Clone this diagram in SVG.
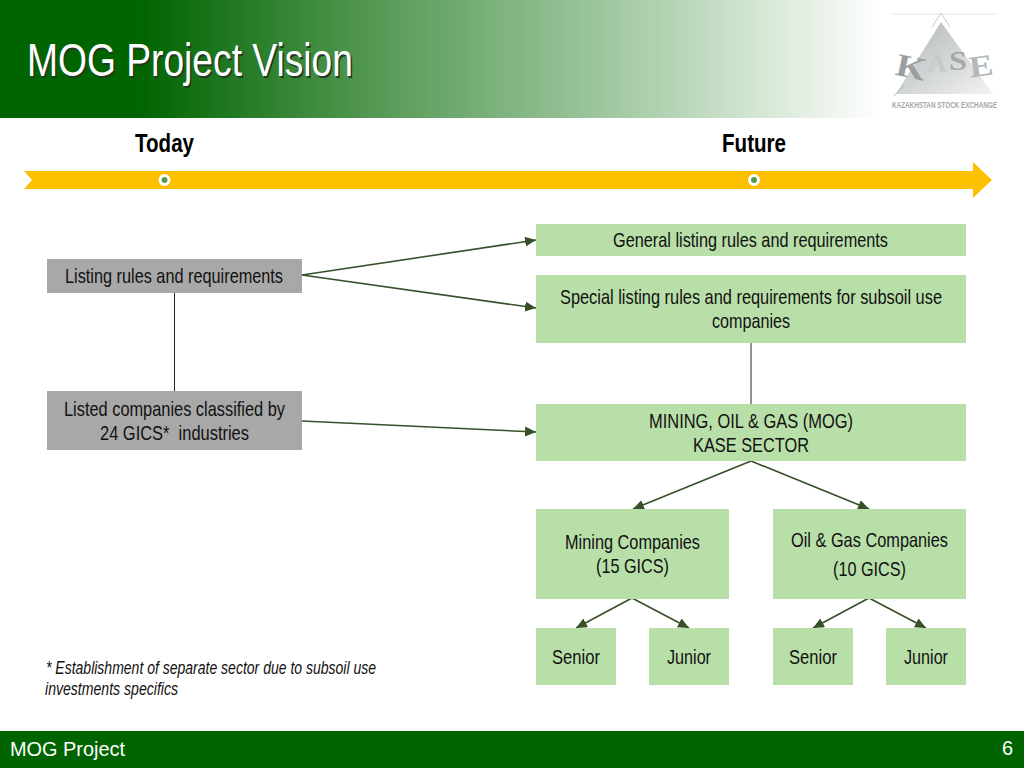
<svg xmlns="http://www.w3.org/2000/svg" width="1024" height="768" viewBox="0 0 1024 768">
<style>
text{font-family:"Liberation Sans",Arial,sans-serif;fill:#111;font-size:21px}
.g{fill:#b9dfa9}
.k{fill:#a8a8a8}
.c line{stroke:#36502a;stroke-width:1.6;fill:none}
.dot{fill:#5a9a4e;stroke:#fff;stroke-width:3}
</style>
<defs>
<linearGradient id="hdr" x1="0" x2="1" y1="0" y2="0">
<stop offset="0" stop-color="#006400"/>
<stop offset="0.135" stop-color="#006400"/>
<stop offset="0.39" stop-color="#5d9e5d"/>
<stop offset="0.65" stop-color="#b3d3b3"/>
<stop offset="0.86" stop-color="#ffffff"/>
<stop offset="1" stop-color="#ffffff"/>
</linearGradient>
<linearGradient id="tri" x1="0" x2="1" y1="0" y2="1">
<stop offset="0" stop-color="#b0b5b5"/>
<stop offset="1" stop-color="#f2f3f3"/>
</linearGradient>
<marker id="a" markerUnits="userSpaceOnUse" markerWidth="12" markerHeight="12" refX="11" refY="5" orient="auto">
<path d="M0 0L11 5L0 10Z" fill="#36502a"/>
</marker>
</defs>
<rect id="header" width="1024" height="118" fill="url(#hdr)"/>
<text x="28.500" y="77.500" textLength="326" lengthAdjust="spacingAndGlyphs" style="font-size:46px;fill:#1f3a1f">MOG Project Vision</text>
<text x="27" y="76" textLength="326" lengthAdjust="spacingAndGlyphs" style="font-size:46px;fill:#fff">MOG Project Vision</text>
<g id="logo">
<path d="M892 14H996" stroke="#e4e6e6" fill="none"/>
<path d="M932 27L941 13L950 27" stroke="#c8cccc" fill="none"/>
<path d="M941 22L896 94H993Z" fill="url(#tri)"/>
<path d="M894 96L904 85" stroke="#b5b9b9" fill="none"/>
<text transform="rotate(12 912 68)" x="896" y="78" textLength="30" lengthAdjust="spacingAndGlyphs" style="font-size:32px;font-weight:bold;fill:#9a9f9f;font-family:'Liberation Serif',serif">K</text>
<text x="927" y="72" textLength="20" lengthAdjust="spacingAndGlyphs" style="font-size:26px;font-weight:bold;fill:#c6caca;font-family:'Liberation Serif',serif">A</text>
<text x="949" y="70" textLength="18" lengthAdjust="spacingAndGlyphs" style="font-size:28px;font-weight:bold;fill:#a4a8a8;font-family:'Liberation Serif',serif">S</text>
<text transform="rotate(-8 980 66)" x="969" y="76" textLength="24" lengthAdjust="spacingAndGlyphs" style="font-size:30px;font-weight:bold;fill:#b4b8b8;font-family:'Liberation Serif',serif">E</text>
<text x="892" y="108" textLength="105" lengthAdjust="spacingAndGlyphs" style="font-size:9px;fill:#a3a7a7;font-weight:bold">KAZAKHSTAN STOCK EXCHANGE</text>
</g>
<g id="timeline">
<path d="M24 171H973V162L992 180L973 198V189H24L32 180Z" fill="#fdc000"/>
<circle class="dot" cx="164.500" cy="180" r="4.500"/>
<circle class="dot" cx="754" cy="180" r="4.500"/>
<text x="135" y="152" textLength="59" lengthAdjust="spacingAndGlyphs" style="font-size:26px;font-weight:bold;fill:#000">Today</text>
<text x="722" y="152" textLength="64" lengthAdjust="spacingAndGlyphs" style="font-size:26px;font-weight:bold;fill:#000">Future</text>
</g>
<g id="connectors" class="c">
<line x1="302" y1="275" x2="536" y2="240" marker-end="url(#a)"/>
<line x1="302" y1="275" x2="536" y2="308" marker-end="url(#a)"/>
<line x1="302" y1="421" x2="536" y2="432" marker-end="url(#a)"/>
<line x1="174.500" y1="293" x2="174.500" y2="391" style="stroke:#1c2a14;stroke-width:1"/>
<line x1="751" y1="343" x2="751" y2="404" style="stroke:#1c2a14;stroke-width:1"/>
<line x1="751" y1="461" x2="633" y2="509" marker-end="url(#a)"/>
<line x1="751" y1="461" x2="869" y2="509" marker-end="url(#a)"/>
<line x1="632" y1="598" x2="576" y2="628" marker-end="url(#a)"/>
<line x1="632" y1="598" x2="689" y2="628" marker-end="url(#a)"/>
<line x1="869" y1="598" x2="813" y2="628" marker-end="url(#a)"/>
<line x1="869" y1="598" x2="926" y2="628" marker-end="url(#a)"/>
</g>
<g id="n1"><rect class="k" x="47" y="259" width="255" height="34"/><text x="65" y="283" textLength="218" lengthAdjust="spacingAndGlyphs">Listing rules and requirements</text></g>
<g id="n2"><rect class="k" x="47" y="391" width="255" height="59"/><text x="64" y="416" textLength="221" lengthAdjust="spacingAndGlyphs">Listed companies classified by</text><text x="100" y="440" textLength="149" lengthAdjust="spacingAndGlyphs" xml:space="preserve">24 GICS*  industries</text></g>
<g id="n3"><rect class="g" x="536" y="224" width="430" height="32"/><text x="613" y="247" textLength="275" lengthAdjust="spacingAndGlyphs">General listing rules and requirements</text></g>
<g id="n4"><rect class="g" x="536" y="275" width="430" height="68"/><text x="560" y="304" textLength="382" lengthAdjust="spacingAndGlyphs">Special listing rules and requirements for subsoil use</text><text x="712" y="328" textLength="78" lengthAdjust="spacingAndGlyphs">companies</text></g>
<g id="n5"><rect class="g" x="536" y="404" width="430" height="57"/><text x="649" y="428" textLength="204" lengthAdjust="spacingAndGlyphs">MINING, OIL &amp; GAS (MOG)</text><text x="693" y="452" textLength="116" lengthAdjust="spacingAndGlyphs">KASE SECTOR</text></g>
<g id="n6"><rect class="g" x="536" y="509" width="193" height="90"/><text x="565" y="549" textLength="135" lengthAdjust="spacingAndGlyphs">Mining Companies</text><text x="596" y="573" textLength="73" lengthAdjust="spacingAndGlyphs">(15 GICS)</text></g>
<g id="n7"><rect class="g" x="773" y="509" width="193" height="90"/><text x="791" y="547" textLength="157" lengthAdjust="spacingAndGlyphs">Oil &amp; Gas Companies</text><text x="833" y="576" textLength="73" lengthAdjust="spacingAndGlyphs">(10 GICS)</text></g>
<g id="n8"><rect class="g" x="536" y="628" width="80" height="57"/><text x="552" y="664" textLength="48" lengthAdjust="spacingAndGlyphs">Senior</text></g>
<g id="n9"><rect class="g" x="649" y="628" width="80" height="57"/><text x="667" y="664" textLength="44" lengthAdjust="spacingAndGlyphs">Junior</text></g>
<g id="n10"><rect class="g" x="773" y="628" width="80" height="57"/><text x="789" y="664" textLength="48" lengthAdjust="spacingAndGlyphs">Senior</text></g>
<g id="n11"><rect class="g" x="886" y="628" width="80" height="57"/><text x="904" y="664" textLength="44" lengthAdjust="spacingAndGlyphs">Junior</text></g>
<g id="note">
<text x="46" y="674" textLength="330" lengthAdjust="spacingAndGlyphs" style="font-size:18px;font-style:italic">* Establishment of separate sector due to subsoil use</text>
<text x="45" y="695" textLength="133" lengthAdjust="spacingAndGlyphs" style="font-size:18px;font-style:italic">investments specifics</text>
</g>
<g id="footer">
<rect y="731" width="1024" height="37" fill="#006400"/>
<text x="10" y="756" textLength="115" lengthAdjust="spacingAndGlyphs" style="font-size:20px;fill:#fff">MOG Project</text>
<text x="1002" y="755" style="font-size:20px;fill:#fff">6</text>
</g>
</svg>
